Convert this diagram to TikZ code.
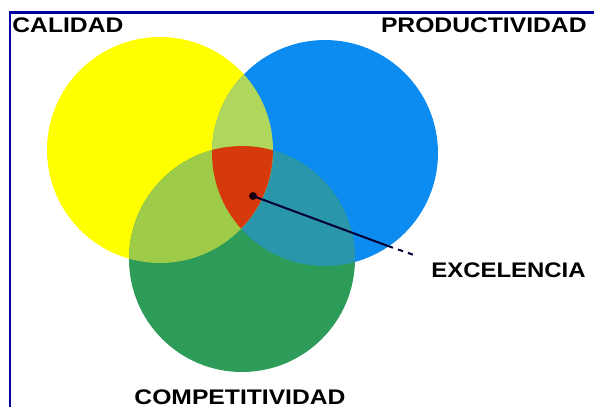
\documentclass[tikz,border=0pt]{standalone}
\usepackage{fontspec}
\setmainfont{Liberation Sans}
\usepackage{tikz}

\definecolor{frame}{RGB}{0,0,160}
\definecolor{calidad}{RGB}{255,255,0}
\definecolor{productividad}{RGB}{12,140,240}
\definecolor{competitividad}{RGB}{44,156,88}
\definecolor{calpro}{RGB}{176,214,92}
\definecolor{calcom}{RGB}{158,204,72}
\definecolor{procom}{RGB}{42,150,172}
\definecolor{excelencia}{RGB}{214,58,12}

\begin{document}
\begin{tikzpicture}[x=0.02cm, y=-0.02cm]
    \tikzset{word/.style={
      font=\bfseries\fontsize{12}{14}\selectfont,
      xscale=1.17, inner sep=0pt}}
    \def\rad{2.26cm}

    \useasboundingbox (0, 0) rectangle (594, 407);

    % Frame
    \draw [frame, line width=0.06cm] (10, 407) -- (10, 12) -- (594, 12);

    % Circles
    \path (160, 150) coordinate (cal);
    \path (325, 153) coordinate (pro);
    \path (242, 259) coordinate (com);

    \fill [calidad] (cal) circle [radius=\rad];
    \fill [productividad] (pro) circle [radius=\rad];
    \fill [competitividad] (com) circle [radius=\rad];

    % Overlaps
    \begin{scope}
      \clip (pro) circle [radius=\rad];
      \fill [procom] (com) circle [radius=\rad];
    \end{scope}
    \begin{scope}
      \clip (cal) circle [radius=\rad];
      \fill [calpro] (pro) circle [radius=\rad];
      \fill [calcom] (com) circle [radius=\rad];
      \clip (pro) circle [radius=\rad];
      \fill [excelencia] (com) circle [radius=\rad];
    \end{scope}

    % Labels
    \node [word, anchor=west] (calidad) at (12, 25) {CALIDAD};
    \node [word, anchor=east] (productividad) at (587, 25) {PRODUCTIVIDAD};
    \node [word] (competitividad) at (240, 397) {COMPETITIVIDAD};
    \node [word, xscale=0.97, anchor=west] (excelencia) at (431, 270)
          {EXCELENCIA};

    % Pointer
    \node [circle, fill=black!85!red, inner sep=0pt, minimum size=0.16cm]
          (dot) at (253, 196) {};
    \path (388, 246) coordinate (bend);
    \path (414, 255) coordinate (tip);

    \draw [black!80!blue, line width=0.04cm] (dot.center) -- (bend);
    \draw [black!80!blue, line width=0.04cm, dashed] (bend) -- (tip);
\end{tikzpicture}
\end{document}
